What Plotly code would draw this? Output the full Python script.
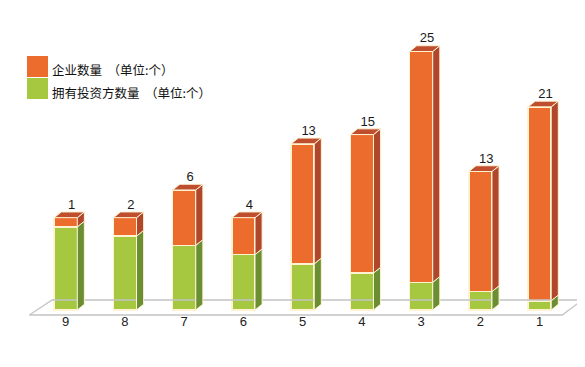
import plotly.graph_objects as go

# ---- data ----
categories = ["9", "8", "7", "6", "5", "4", "3", "2", "1"]
companies = [1, 2, 6, 4, 13, 15, 25, 13, 21]      # 企业数量
investors = [9, 8, 7, 6, 5, 4, 3, 2, 1]           # 拥有投资方数量
name_companies = "企业数量  （单位:个）"
name_investors = "拥有投资方数量  （单位:个）"

# ---- style / geometry ----
OFF = 8               # page body margin in the screenshot
W_PX, H_PX = 585, 367
L, T = 29 - OFF, 33 - OFF
PW, PH = 554, 285
R, B = W_PX - L - PW, H_PX - T - PH
X0 = -0.62
PX_PER_CAT = 59.24
X1 = X0 + PW / PX_PER_CAT
Y1 = 30.0
PX_PER_UNIT = 9.233
Y0 = Y1 - PH / PX_PER_UNIT

HW = 0.195            # half width of bar front (category units)
DX = 0.12             # depth offset x
DY = 0.62             # depth offset y (value units)

OR_FRONT, OR_SIDE, OR_TOP = "#EC6C2E", "#B0462C", "#BF4E2F"
GR_FRONT, GR_SIDE = "#A6C841", "#6A8F33"
EDGE = "#FFF3D2"
FLOOR = "#C4C4C4"

xs = list(range(len(categories)))
tops = [g + c for g, c in zip(investors, companies)]

fig = go.Figure()

# floor (parallelogram)
fx = [X0 + 0.005, 8.38, 8.72, -0.23, X0 + 0.005]
fy = [-0.54, -0.54, 1.08, 1.08, -0.54]
fig.add_trace(go.Scatter(x=fx, y=fy, mode="lines", fill="toself",
                         fillcolor="rgba(255,255,255,0)",
                         line=dict(color=FLOOR, width=1.3),
                         hoverinfo="skip", showlegend=False))

# front faces
fig.add_trace(go.Bar(x=xs, y=investors, width=2 * HW, name=name_investors,
                     marker=dict(color=GR_FRONT, line=dict(color=EDGE, width=1.5)),
                     showlegend=False))
fig.add_trace(go.Bar(x=xs, y=companies, width=2 * HW, name=name_companies,
                     marker=dict(color=OR_FRONT, line=dict(color=EDGE, width=1.5)),
                     showlegend=False))

def side_poly(x, y0, y1):
    xr = x + HW
    return ([xr, xr + DX, xr + DX, xr, xr, None],
            [y0, y0 + DY, y1 + DY, y1, y0, None])

def top_poly(x, y):
    return ([x - HW, x + HW, x + HW + DX, x - HW + DX, x - HW, None],
            [y, y, y + DY, y + DY, y, None])

gsx, gsy, osx, osy, tx, ty = [], [], [], [], [], []
for x, g, t in zip(xs, investors, tops):
    a, b = side_poly(x, 0, g); gsx += a; gsy += b
    a, b = side_poly(x, g, t); osx += a; osy += b
    a, b = top_poly(x, t); tx += a; ty += b

for px_, py_, col in [(gsx, gsy, GR_SIDE), (osx, osy, OR_SIDE), (tx, ty, OR_TOP)]:
    fig.add_trace(go.Scatter(x=px_, y=py_, mode="lines", fill="toself",
                             fillcolor=col, line=dict(color=EDGE, width=1),
                             hoverinfo="skip", showlegend=False))

# value labels
fig.add_trace(go.Scatter(x=[x + 0.1 for x in xs], y=[t + DY for t in tops],
                         mode="text", text=[str(c) for c in companies],
                         textposition="top center", cliponaxis=False,
                         textfont=dict(family="Liberation Sans, Arial", size=13, color="#1a1a1a"),
                         hoverinfo="skip", showlegend=False))

# manual legend (positions given in screenshot pixels)
def px2x(p):
    return (p - OFF - L) / PW

def py2y(p):
    return (H_PX - B - (p - OFF)) / PH

legend_items = [(name_companies, OR_FRONT, 56, 77, 70),
                (name_investors, GR_FRONT, 78, 99, 92)]
for text, col, ya, yb, yt in legend_items:
    fig.add_shape(type="rect", xref="paper", yref="paper",
                  x0=px2x(27), x1=px2x(48), y0=py2y(yb), y1=py2y(ya),
                  fillcolor=col, line=dict(width=0))
    fig.add_annotation(xref="paper", yref="paper", x=px2x(50), y=py2y(yt),
                       xanchor="left", yanchor="middle", showarrow=False,
                       text=text,
                       font=dict(family="Noto Sans CJK SC", size=12.5, color="#111111"))

fig.update_layout(
    width=W_PX, height=H_PX,
    margin=dict(l=L, r=R, t=T, b=B),
    paper_bgcolor="white", plot_bgcolor="white",
    barmode="stack", showlegend=False,
    xaxis=dict(range=[X0, X1], tickvals=xs, ticktext=categories,
               showgrid=False, zeroline=False, showline=False,
               ticklabelstandoff=-6,
               tickfont=dict(family="Liberation Sans, Arial", size=13, color="#222222")),
    yaxis=dict(range=[Y0, Y1], visible=False),
)

fig.write_html("out.html")
